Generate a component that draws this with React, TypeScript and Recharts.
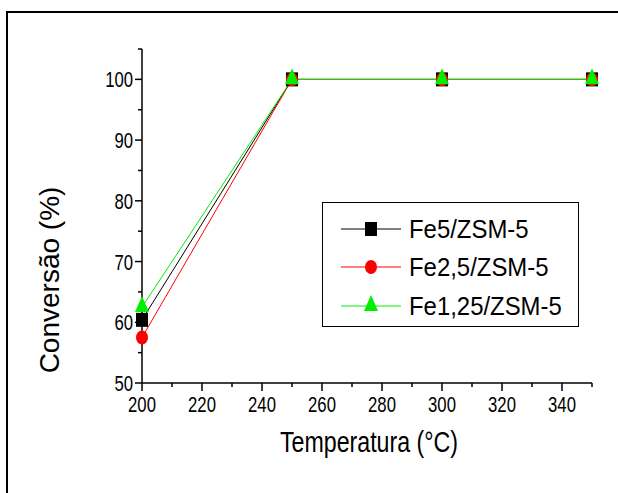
import { Legend, Line, LineChart, XAxis, YAxis } from "recharts";

const temperatures = [200, 250, 300, 350];
const fe5 = [60.4, 100, 100, 100];
const fe25 = [57.5, 100, 100, 100];
const fe125 = [62.5, 100, 100, 100];

const xTicks = [200, 210, 220, 230, 240, 250, 260, 270, 280, 290, 300, 310, 320, 330, 340, 350];
const yTicks = [50, 55, 60, 65, 70, 75, 80, 85, 90, 95, 100, 105];

const series = [
  { key: "fe5", name: "Fe5/ZSM-5", color: "#000000", shape: "square", values: fe5 },
  { key: "fe25", name: "Fe2,5/ZSM-5", color: "#ff0000", shape: "circle", values: fe25 },
  { key: "fe125", name: "Fe1,25/ZSM-5", color: "#00ee00", shape: "triangle", values: fe125 },
];

const data = temperatures.map((t, i) => {
  const row: Record<string, number> = { temp: t };
  series.forEach((s) => (row[s.key] = s.values[i]));
  return row;
});

const FONT = "'Liberation Sans', Arial, sans-serif";

function Marker({ shape, cx, cy, color }: { shape: string; cx: number; cy: number; color: string }) {
  if (shape === "square") return <rect x={cx - 6} y={cy - 7} width={12} height={14} fill={color} />;
  if (shape === "circle") return <ellipse cx={cx} cy={cy} rx={6} ry={7} fill={color} />;
  return <polygon points={`${cx},${cy - 11} ${cx - 7},${cy + 5} ${cx + 7},${cy + 5}`} fill={color} />;
}

function YTick(props: any) {
  const { x, y, payload } = props;
  const major = payload.value % 10 === 0;
  return (
    <g>
      <line x1={x} x2={x - (major ? 7 : 4)} y1={y} y2={y} stroke="#000" strokeWidth={1.5} />
      {major && (
        <text
          transform={`translate(${x - 9},${y + 8}) scale(0.76,1)`}
          textAnchor="end"
          fontSize={22}
          fontFamily={FONT}
          fill="#000"
        >
          {payload.value}
        </text>
      )}
    </g>
  );
}

function XTick(props: any) {
  const { x, y, payload } = props;
  const major = payload.value % 20 === 0 && payload.value < 350;
  return (
    <g>
      <line x1={x} x2={x} y1={y} y2={y + (major ? 8 : 4)} stroke="#000" strokeWidth={1.5} />
      {major && (
        <text
          transform={`translate(${x},${y + 29}) scale(0.76,1)`}
          textAnchor="middle"
          fontSize={22}
          fontFamily={FONT}
          fill="#000"
        >
          {payload.value}
        </text>
      )}
    </g>
  );
}

function LegendBox() {
  const rows = [26, 64, 103];
  return (
    <div style={{ width: 257, height: 125, border: "1px solid #000", boxSizing: "border-box", background: "#fff" }}>
      <svg width={255} height={123} style={{ display: "block" }}>
        {series.map((s, i) => (
          <g key={s.key}>
            <line x1={18} x2={78} y1={rows[i]} y2={rows[i]} stroke={s.color} strokeWidth={1} />
            <Marker shape={s.shape} cx={48} cy={rows[i]} color={s.color} />
            <text
              transform={`translate(86,${rows[i] + 9}) scale(0.92,1)`}
              fontSize={26}
              fontFamily={FONT}
              fill="#000"
            >
              {s.name}
            </text>
          </g>
        ))}
      </svg>
    </div>
  );
}

export default function App() {
  return (
    <div style={{ position: "absolute", left: 0, top: 0, width: 618, height: 493, overflow: "hidden", background: "#fff" }}>
      <div
        style={{
          position: "absolute",
          left: 6,
          top: 11,
          width: 700,
          height: 600,
          border: "2px solid #000",
        }}
      />
      <div style={{ position: "absolute", left: 0, top: 0 }}>
        <LineChart width={618} height={493} data={data} margin={{ top: 49, right: 26, bottom: 70, left: 82 }}>
          <XAxis
            dataKey="temp"
            type="number"
            domain={[200, 350]}
            ticks={xTicks}
            interval={0}
            height={40}
            tickSize={0}
            tickMargin={0}
            tickLine={false}
            axisLine={{ stroke: "#000", strokeWidth: 1.5 }}
            tick={<XTick />}
            label={{
              content: (p: any) => (
                <text
                  transform={`translate(${p.viewBox.x + p.viewBox.width / 2 + 2},452) scale(0.8,1)`}
                  textAnchor="middle"
                  fontSize={29}
                  fontFamily={FONT}
                  fill="#000"
                >
                  Temperatura (°C)
                </text>
              ),
            }}
          />
          <YAxis
            type="number"
            domain={[50, 105]}
            ticks={yTicks}
            interval={0}
            width={60}
            tickSize={0}
            tickMargin={0}
            tickLine={false}
            axisLine={{ stroke: "#000", strokeWidth: 1.5 }}
            tick={<YTick />}
            label={{
              content: () => (
                <text
                  transform="translate(59,280) rotate(-90)"
                  textAnchor="middle"
                  fontSize={28}
                  fontFamily={FONT}
                  fill="#000"
                >
                  Conversão (%)
                </text>
              ),
            }}
          />
          <Legend
            layout="horizontal"
            verticalAlign="middle"
            align="center"
            content={() => <LegendBox />}
            wrapperStyle={{ left: 322, top: 202, width: 257, height: 125 }}
          />
          {series.map((s) => (
            <Line
              key={s.key}
              dataKey={s.key}
              name={s.name}
              stroke={s.color}
              strokeWidth={1}
              isAnimationActive={false}
              dot={(p: any) => <Marker key={`${s.key}-${p.index}`} shape={s.shape} cx={p.cx} cy={p.cy} color={s.color} />}
              activeDot={false}
            />
          ))}
        </LineChart>
      </div>
    </div>
  );
}
